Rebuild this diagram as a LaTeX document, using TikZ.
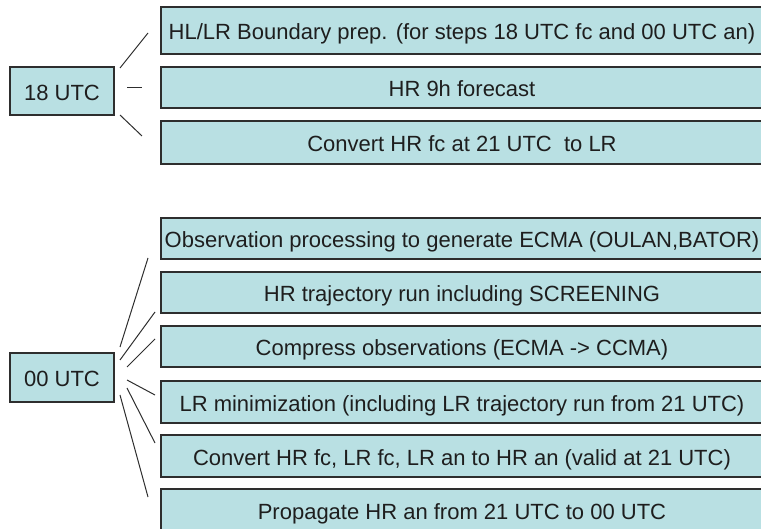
\documentclass[tikz,border=0pt]{standalone}
\usepackage{fontspec}
\setmainfont{Liberation Sans}
\definecolor{boxfill}{HTML}{B9E0E3}
\definecolor{boxline}{HTML}{2E2E2E}
\definecolor{txt}{HTML}{1E1E1E}
\begin{document}
\begin{tikzpicture}[x=1pt,y=-1pt,
  taskbox/.style={draw=boxline,fill=boxfill,line width=1.3pt,rectangle,inner sep=0pt,
    minimum width=602pt,text=txt,font=\fontsize{22}{24}\selectfont,text height=19pt,text depth=0pt},
  timebox/.style={draw=boxline,fill=boxfill,line width=1.3pt,rectangle,inner sep=0pt,
    minimum width=104pt,text=txt,font=\fontsize{22}{24}\selectfont,text height=19pt,text depth=0pt},
  link/.style={draw=boxline,line width=1pt}]
\useasboundingbox (0,0) rectangle (761,529);
\begin{scope}
\clip (0,0) rectangle (761,529);
% 18 UTC group
\node[timebox,minimum height=48pt] (t18) at (62,91) {18 UTC};
\node[taskbox,minimum height=47pt] (a1) at (462,30.5) {HL/LR Boundary prep. (for steps 18 UTC fc and 00 UTC an)};
\node[taskbox,minimum height=41pt] (a2) at (462,87.5) {HR 9h forecast};
\node[taskbox,minimum height=43pt] (a3) at (462,142.5) {Convert HR fc at 21 UTC \ to LR};
% 00 UTC group
\node[timebox,minimum height=49pt] (t00) at (62,377.5) {00 UTC};
\node[taskbox,minimum height=41pt] (b1) at (462,238.5) {Observation processing to generate ECMA (OULAN,BATOR)};
\node[taskbox,minimum height=41pt] (b2) at (462,292.5) {HR trajectory run including SCREENING};
\node[taskbox,minimum height=41pt] (b3) at (462,346.5) {Compress observations (ECMA -> CCMA)};
\node[taskbox,minimum height=42pt] (b4) at (462,402) {LR minimization (including LR trajectory run from 21 UTC)};
\node[taskbox,minimum height=42pt] (b5) at (462,456) {Convert HR fc, LR fc, LR an to HR an (valid at 21 UTC)};
\node[taskbox,minimum height=42pt] (b6) at (462,510) {Propagate HR an from 21 UTC to 00 UTC};
\end{scope}
% connector end points
\coordinate (p1s) at (120,68);  \coordinate (p1e) at (148,33);
\coordinate (p2s) at (127,88);  \coordinate (p2e) at (142,88);
\coordinate (p3s) at (120,115); \coordinate (p3e) at (142,136);
\coordinate (q1s) at (120,347); \coordinate (q1e) at (148,258);
\coordinate (q2s) at (120,360); \coordinate (q2e) at (155,312);
\coordinate (q3s) at (127,367); \coordinate (q3e) at (155,339);
\coordinate (q4s) at (127,380); \coordinate (q4e) at (155,395);
\coordinate (q5s) at (127,388); \coordinate (q5e) at (155,443);
\coordinate (q6s) at (120,395); \coordinate (q6e) at (148,497);
\draw[link] (p1s) -- (p1e);
\draw[link] (p2s) -- (p2e);
\draw[link] (p3s) -- (p3e);
\draw[link] (q1s) -- (q1e);
\draw[link] (q2s) -- (q2e);
\draw[link] (q3s) -- (q3e);
\draw[link] (q4s) -- (q4e);
\draw[link] (q5s) -- (q5e);
\draw[link] (q6s) -- (q6e);
\end{tikzpicture}
\end{document}
